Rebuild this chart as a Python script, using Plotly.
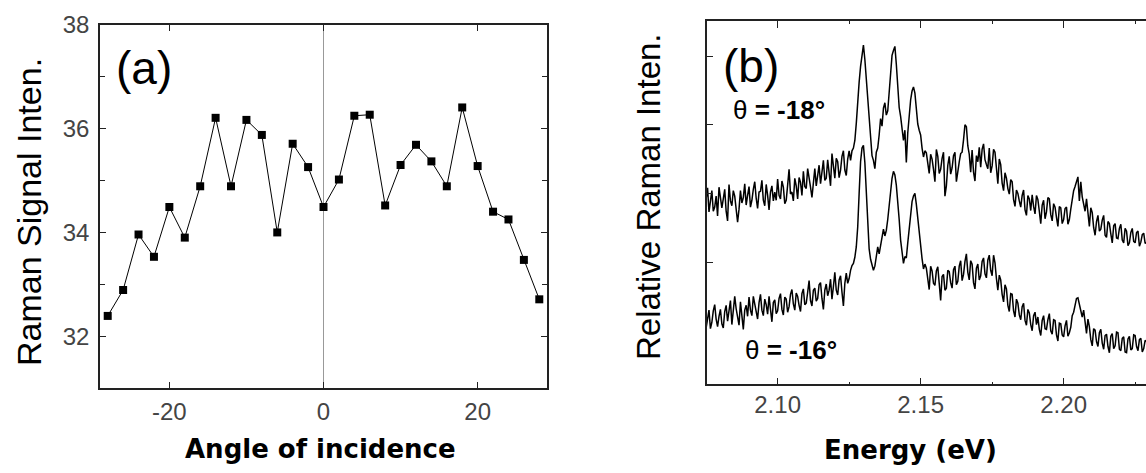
import plotly.graph_objects as go

# ---------------- Panel (a) data ----------------
angle = [-28, -26, -24, -22, -20, -18, -16, -14, -12, -10, -8, -6, -4, -2, 0,
         2, 4, 6, 8, 10, 12, 14, 16, 18, 20, 22, 24, 26, 28]
signal = [32.39, 32.89, 33.96, 33.53, 34.49, 33.90, 34.89, 36.21, 34.89, 36.17,
          35.88, 34.00, 35.71, 35.26, 34.49, 35.02, 36.25, 36.27, 34.52, 35.30,
          35.69, 35.37, 34.89, 36.41, 35.28, 34.40, 34.25, 33.47, 32.71]

# ---------------- Panel (b) data (energy grid: 2.075 eV, step 0.0005 eV) ----------------
energy_start = 2.075
energy_step = 0.0005
spec_m18 = [
    292, 308, 273, 289, 304, 274, 280, 296, 267, 309, 297, 279, 292, 306, 274, 260,
    313, 289, 282, 304, 296, 272, 258, 277, 304, 286, 294, 314, 283, 297, 310, 280,
    290, 306, 317, 293, 278, 302, 303, 319, 290, 282, 313, 297, 276, 302, 311, 289,
    302, 290, 321, 297, 292, 318, 309, 285, 290, 312, 335, 299, 302, 289, 322, 311,
    292, 323, 316, 297, 332, 310, 307, 336, 325, 309, 294, 315, 336, 311, 328, 341,
    314, 329, 348, 319, 322, 349, 330, 311, 358, 335, 322, 351, 346, 323, 334, 354,
    362, 334, 326, 350, 362, 348, 362, 366, 377, 402, 436, 462, 485, 505, 516, 495,
    464, 440, 413, 380, 355, 348, 336, 360, 366, 385, 409, 398, 424, 432, 414, 420,
    447, 470, 501, 508, 514, 488, 450, 425, 412, 395, 377, 392, 345, 388, 415, 436,
    449, 455, 446, 420, 401, 392, 385, 366, 353, 362, 359, 344, 329, 357, 350, 335,
    317, 364, 354, 329, 335, 351, 360, 296, 311, 341, 354, 328, 337, 355, 360, 317,
    334, 346, 358, 360, 378, 400, 397, 369, 357, 331, 363, 331, 318, 355, 346, 367,
    338, 364, 372, 349, 342, 336, 366, 330, 340, 364, 360, 335, 314, 350, 342, 315,
    304, 330, 322, 307, 299, 320, 317, 291, 281, 305, 300, 289, 280, 297, 305, 276,
    268, 297, 292, 275, 298, 281, 270, 297, 291, 274, 256, 283, 290, 263, 273, 294,
    292, 269, 260, 285, 280, 265, 252, 281, 279, 256, 262, 278, 280, 255, 262, 277,
    292, 304, 310, 319, 324, 289, 317, 295, 282, 274, 292, 267, 252, 279, 272, 250,
    239, 259, 268, 245, 248, 261, 268, 239, 236, 259, 256, 241, 228, 253, 256, 235,
    234, 249, 255, 232, 228, 249, 245, 224, 228, 243, 249, 230, 228, 243, 245, 223,
    229, 240, 242, 227, 229]
spec_m16 = [
    104, 121, 130, 103, 112, 129, 138, 117, 106, 121, 131, 110, 104, 128, 137, 114,
    130, 144, 109, 126, 150, 132, 121, 108, 142, 126, 102, 130, 137, 121, 149, 130,
    122, 150, 140, 128, 117, 141, 153, 130, 122, 146, 138, 124, 150, 131, 113, 141,
    145, 125, 129, 147, 154, 131, 123, 149, 146, 127, 135, 153, 160, 139, 130, 155,
    150, 137, 128, 154, 161, 138, 140, 156, 173, 144, 136, 159, 162, 143, 147, 167,
    170, 147, 131, 159, 168, 151, 159, 175, 146, 164, 185, 159, 152, 174, 180, 156,
    136, 169, 184, 169, 176, 188, 195, 198, 207, 222, 251, 300, 346, 366, 370, 345,
    305, 258, 219, 204, 196, 188, 194, 210, 222, 212, 223, 236, 248, 238, 246, 262,
    285, 305, 322, 332, 327, 312, 291, 262, 232, 218, 198, 208, 206, 228, 250, 272,
    288, 296, 300, 284, 263, 240, 224, 205, 190, 197, 191, 178, 160, 194, 187, 169,
    166, 187, 193, 169, 144, 179, 182, 159, 162, 188, 186, 170, 162, 189, 194, 167,
    172, 194, 202, 173, 182, 201, 212, 185, 174, 202, 197, 170, 161, 191, 197, 174,
    180, 201, 206, 183, 177, 203, 210, 188, 180, 210, 199, 176, 159, 181, 174, 153,
    142, 167, 161, 137, 128, 154, 153, 129, 120, 146, 140, 123, 116, 135, 140, 115,
    108, 131, 126, 109, 100, 122, 127, 109, 120, 102, 93, 115, 122, 103, 102, 116,
    125, 100, 95, 116, 115, 94, 85, 111, 110, 94, 91, 107, 115, 92, 97, 105,
    122, 127, 136, 147, 148, 137, 127, 120, 130, 108, 96, 117, 106, 87, 78, 103,
    101, 84, 77, 97, 102, 82, 73, 93, 95, 77, 68, 92, 96, 74, 78, 98,
    97, 73, 71, 89, 91, 69, 68, 88, 92, 72, 74, 94, 93, 77, 71, 87,
    89, 69, 74, 86, 84]
energy = [round(energy_start + energy_step * i, 5) for i in range(len(spec_m18))]

# ---------------- Axis / label text ----------------
a_xticks = [-20, 0, 20]
a_xticktext = ["-20", "0", "20"]
a_yticks = [32, 34, 36, 38]
a_yminor = [33, 35, 37]
b_xticks = [2.10, 2.15, 2.20]
b_xticktext = ["2.10", "2.15", "2.20"]
b_xminor = [2.125, 2.175, 2.225]
b_yticks = [200, 300, 400, 500]

W, H = 1146, 473
ARIAL = "Arial, Liberation Sans, sans-serif"
DEJAVU = "DejaVu Sans, Verdana, sans-serif"
AXC = "#222222"
TICKC = "#444444"

fig = go.Figure()
fig.add_trace(go.Scatter(
    x=angle, y=signal, mode="lines+markers", xaxis="x", yaxis="y",
    line=dict(color="black", width=1),
    marker=dict(symbol="square", size=8, color="black"),
    showlegend=False))
fig.add_trace(go.Scatter(
    x=energy, y=spec_m18, mode="lines", xaxis="x2", yaxis="y2",
    line=dict(color="black", width=1.5), showlegend=False))
fig.add_trace(go.Scatter(
    x=energy, y=spec_m16, mode="lines", xaxis="x2", yaxis="y2",
    line=dict(color="black", width=1.5), showlegend=False))

common = dict(showgrid=False, zeroline=False, showline=True, linecolor=AXC,
              linewidth=1.5, ticks="inside", tickcolor=AXC, tickwidth=1.2)

fig.update_layout(
    width=W, height=H, margin=dict(l=0, r=0, t=0, b=0, autoexpand=False),
    paper_bgcolor="white", plot_bgcolor="white",
    xaxis=dict(domain=[100 / W, 547 / W], range=[-29, 29], tickvals=a_xticks,
               ticktext=a_xticktext, ticklen=6, mirror="ticks", anchor="y",
               tickfont=dict(family=ARIAL, size=24, color=TICKC),
               ticklabelstandoff=1, **common),
    yaxis=dict(domain=[1 - 388 / H, 1 - 25 / H], range=[31, 38], tickvals=a_yticks,
               ticklen=6, mirror="ticks", anchor="x",
               minor=dict(tickvals=a_yminor, ticks="inside", ticklen=5,
                          tickcolor=AXC, tickwidth=1.2),
               tickfont=dict(family=ARIAL, size=24, color=TICKC),
               ticklabelstandoff=4, **common),
    xaxis2=dict(domain=[706.7 / W, 1.0], range=[2.0752, 2.2288],
                tickvals=b_xticks, ticktext=b_xticktext, ticklen=7,
                mirror="ticks", anchor="y2",
                minor=dict(tickvals=b_xminor, ticks="inside", ticklen=3,
                           tickcolor=AXC, tickwidth=1.2),
                tickfont=dict(family=ARIAL, size=24, color=TICKC),
                ticklabelstandoff=-2, **common),
    yaxis2=dict(domain=[1 - 384.3 / H, 1 - 21 / H], range=[22, 551],
                tickvals=b_yticks, ticklen=7, showticklabels=False,
                mirror=False, anchor="x2", **common),
)

# zero line in panel (a)
fig.add_shape(type="line", xref="x", yref="y domain", x0=0, x1=0, y0=0.01, y1=0.99,
              line=dict(color="#999999", width=1), layer="below")

def ann(text, x, y, size, family=ARIAL, angle=0, xanchor="center"):
    fig.add_annotation(text=text, x=x / W, y=1 - y / H, xref="paper", yref="paper",
                       showarrow=False, textangle=angle, xanchor=xanchor,
                       yanchor="middle", font=dict(family=family, size=size, color="black"))

ann("(a)", 144, 68, 46)
ann("(b)", 751, 66, 46)
ann("θ <b>= -18°</b>", 731, 110, 26, xanchor="left")
ann("θ <b>= -16°</b>", 743, 350, 26, xanchor="left")
ann("Raman Signal Inten.", 29, 212, 34, angle=-90)
ann("Relative Raman Inten.", 648, 197, 33, angle=-90)
ann("<b>Angle of incidence</b>", 320, 449, 26, family=DEJAVU)
ann("<b>Energy (eV)</b>", 910, 450, 26, family=DEJAVU)

fig.write_html("out.html", config={"displayModeBar": False},
               post_script="document.body.style.margin='0';document.body.style.overflow='hidden';")
